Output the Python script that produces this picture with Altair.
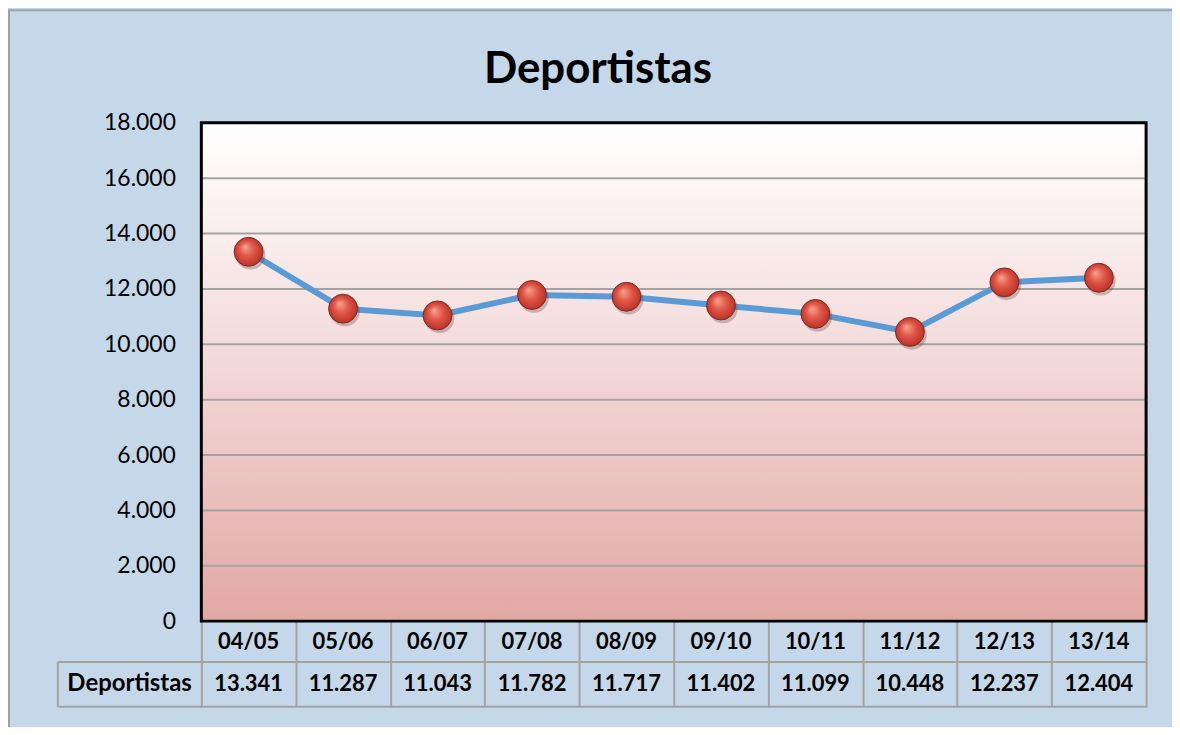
import altair as alt
import pandas as pd

temporadas = ["04/05", "05/06", "06/07", "07/08", "08/09", "09/10", "10/11", "11/12", "12/13", "13/14"]
deportistas = [13341, 11287, 11043, 11782, 11717, 11402, 11099, 10448, 12237, 12404]
y_ticks = [0, 2000, 4000, 6000, 8000, 10000, 12000, 14000, 16000, 18000]
serie = "Deportistas"
titulo = "Deportistas"

df = pd.DataFrame({"temporada": temporadas, "valor": deportistas})
grid_df = pd.DataFrame({"valor": y_ticks})

W, H = 948, 500
FONT = "Lato"
GRID = "#a3a3a3"

x_enc = alt.X("temporada:N", sort=temporadas,
              scale=alt.Scale(paddingInner=0, paddingOuter=0),
              axis=alt.Axis(title=None, labels=False, domain=False, ticks=True,
                            tickBand="extent", tickSize=86, tickColor=GRID, tickWidth=2))
y_scale = alt.Scale(domain=[0, 18000], nice=False)
y_enc = alt.Y("valor:Q", scale=y_scale,
              axis=alt.Axis(title=None, values=y_ticks, domain=False, ticks=False,
                            labelFontSize=23, labelFont=FONT, labelColor="black",
                            labelPadding=26, grid=False,
                            labelExpr="replace(format(datum.value, ','), ',', '.')"))

base = alt.Chart(df)

plot_fill = alt.LinearGradient(
    gradient="linear", x1=0, y1=0, x2=0, y2=1,
    stops=[alt.GradientStop(color="#ffffff", offset=0.0),
           alt.GradientStop(color="#f3dcdb", offset=0.45),
           alt.GradientStop(color="#e2a7a3", offset=1.0)])

rules_df = pd.DataFrame({"k": [0]})
bg = alt.Chart(rules_df).mark_rect(fill=plot_fill).encode(
    x=alt.value(0), x2=alt.value(W), y=alt.value(0), y2=alt.value(H))

grid = alt.Chart(grid_df).mark_rule(color=GRID, strokeWidth=2).encode(
    y=y_enc, x=alt.value(0), x2=alt.value(W))

line = base.mark_line(color="#5b9bd5", strokeWidth=6).encode(x=x_enc, y=y_enc)

shadow = base.mark_point(filled=True, shape="circle", size=880, color="#5a3a3a",
                         opacity=0.3, xOffset=2, yOffset=3).encode(x=x_enc, y=y_enc)

sphere_fill = alt.RadialGradient(
    gradient="radial", x1=0.38, y1=0.32, r1=0.0, x2=0.5, y2=0.5, r2=0.55,
    stops=[alt.GradientStop(color="#f6a58f", offset=0.0),
           alt.GradientStop(color="#e2594a", offset=0.45),
           alt.GradientStop(color="#b52c22", offset=1.0)])
points = base.mark_point(filled=True, shape="circle", size=840, fill=sphere_fill,
                         stroke="#7c2a22", strokeWidth=1, opacity=1).encode(x=x_enc, y=y_enc)

header = base.mark_text(font=FONT, fontSize=22, fontWeight="bold", color="black",
                        baseline="middle").encode(
    x=x_enc, y=alt.value(H + 21), text="temporada:N")
values = base.mark_text(font=FONT, fontSize=22, fontWeight="bold", color="black",
                        baseline="middle").transform_calculate(
    lab="replace(format(datum.valor, ','), ',', '.')").encode(
    x=x_enc, y=alt.value(H + 63), text="lab:N")

label_df = pd.DataFrame({"serie": [serie], "titulo": [titulo]})
row_label = alt.Chart(label_df).mark_text(font=FONT, fontSize=24, fontWeight="bold",
                                          color="black", baseline="middle").encode(
    x=alt.value(-72), y=alt.value(H + 63), text="serie:N")
title = alt.Chart(label_df).mark_text(font=FONT, fontSize=44, fontWeight="bold",
                                      color="black", baseline="alphabetic").encode(
    x=alt.value(398), y=alt.value(-40), text="titulo:N")

hline1 = alt.Chart(rules_df).mark_rule(color=GRID, strokeWidth=2).encode(
    x=alt.value(-144), x2=alt.value(W), y=alt.value(H + 41))
hline2 = alt.Chart(rules_df).mark_rule(color=GRID, strokeWidth=2).encode(
    x=alt.value(-144), x2=alt.value(W), y=alt.value(H + 86))
vline = alt.Chart(rules_df).mark_rule(color=GRID, strokeWidth=2).encode(
    x=alt.value(-144), y=alt.value(H + 41), y2=alt.value(H + 86))
frame = alt.Chart(rules_df).mark_rect(fill=None, stroke="#9aa3ab", strokeWidth=2).encode(
    x=alt.value(-193), x2=alt.value(W + 100), y=alt.value(-113), y2=alt.value(H + 160))
border = alt.Chart(rules_df).mark_rect(fill=None, stroke="black", strokeWidth=3).encode(
    x=alt.value(0), x2=alt.value(W), y=alt.value(0), y2=alt.value(H))

chart = alt.layer(frame, bg, grid, line, shadow, points, header, values, row_label,
                  title, hline1, hline2, vline, border).properties(
    width=W, height=H,
    autosize=alt.AutoSizeParams(type="none"),
    padding={"left": 194, "top": 114, "right": 26, "bottom": 105},
    background="#c5d8e9",
).configure_view(stroke=None)

chart.save("out.html", embed_options={"renderer": "svg", "actions": False})
